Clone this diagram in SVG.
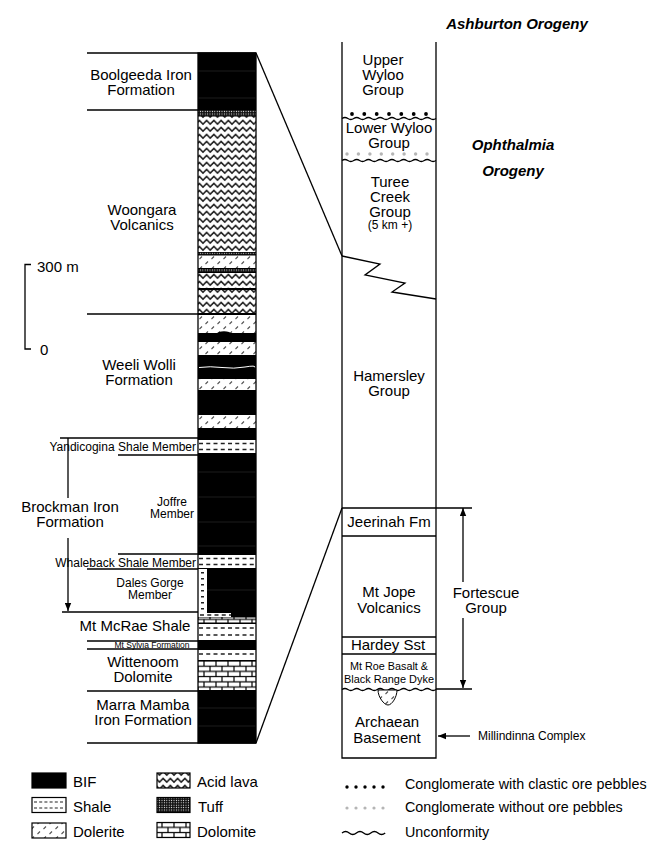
<svg xmlns="http://www.w3.org/2000/svg" width="651" height="853" viewBox="0 0 651 853">
<style>
text{font-family:"Liberation Sans",Arial,Helvetica,sans-serif;fill:#000}
.l{font-size:15px;text-anchor:middle}
.s{font-size:12px;text-anchor:middle}
.bi{font-size:15px;font-weight:bold;font-style:italic;text-anchor:middle}
.ln{stroke:#000;stroke-width:1.3;fill:none}
.sh{stroke:#222;stroke-width:1.5;stroke-dasharray:4 3.25;fill:none}
.bif{fill:#000}
.acid{fill:url(#pAcid)}
.dol{fill:url(#pDol)}
.tuff{fill:url(#pTuff)}
.dolo{fill:url(#pDolo)}
.wh{fill:#fff}
.leg{font-size:15px}
.leg2{font-size:14.3px}
.box{stroke:#000;stroke-width:1.2}
</style>
<defs>
<pattern id="pAcid" width="7.25" height="7" patternUnits="userSpaceOnUse">
<rect width="7.25" height="7" fill="#fff"/>
<path d="M-0.5 5.6 L3.625 1.4 L7.75 5.6" stroke="#222" stroke-width="1.5" fill="none"/>
</pattern>
<pattern id="pDol" width="12" height="10" patternUnits="userSpaceOnUse">
<rect width="12" height="10" fill="#fff"/>
<path d="M1.5 4 L4 1.5 M7.5 9 L10 6.5" stroke="#555" stroke-width="1.1"/>
</pattern>
<pattern id="pTuff" width="2.4" height="2.4" patternUnits="userSpaceOnUse">
<rect width="2.4" height="2.4" fill="#111"/>
<circle cx="1.2" cy="1.2" r="0.55" fill="#fff"/>
</pattern>
<pattern id="pDolo" width="12" height="10.4" y="661" patternUnits="userSpaceOnUse">
<rect width="12" height="10.4" fill="#000"/>
<rect x="0.6" y="0.6" width="10.8" height="4" fill="#fff"/>
<rect x="-5.4" y="5.8" width="10.8" height="4" fill="#fff"/>
<rect x="6.6" y="5.8" width="10.8" height="4" fill="#fff"/>
</pattern>
<marker id="ah" viewBox="0 0 10 8" refX="10" refY="4" markerWidth="8" markerHeight="7" orient="auto" markerUnits="userSpaceOnUse"><path d="M0 0 L10 4 L0 8 z" fill="#000"/></marker>
</defs>
<rect width="651" height="853" fill="#fff"/>

<!-- Left stratigraphic column -->
<g id="left-column">
<rect x="198" y="53" width="58" height="690" class="bif"/>
<path d="M198 71 H256 M198 98 H256 M198 472 H256 M198 497 H256 M198 522 H256 M198 546 H256 M198 590 H256 M198 708 H256 M198 726 H256" stroke="#2a2a2a" stroke-width="0.7"/>
<rect x="198" y="110" width="58" height="6" class="tuff"/>
<rect x="198" y="116.5" width="58" height="135.5" class="acid"/>
<rect x="198" y="252.5" width="58" height="2" class="tuff"/>
<rect x="198" y="255.5" width="58" height="12.5" class="dol"/>
<rect x="198" y="269" width="58" height="3" class="tuff"/>
<rect x="198" y="273" width="58" height="15" class="acid"/>
<rect x="198" y="290" width="58" height="23" class="acid"/>
<rect x="198" y="315" width="58" height="18" class="dol"/>
<ellipse cx="224" cy="333.5" rx="7" ry="2.2" fill="#000"/>
<rect x="198" y="342" width="58" height="13" class="dol"/>
<path d="M199 367.5 Q210 366 222 367.5 T245 367 T255 367.5" stroke="#fff" stroke-width="1" fill="none"/>
<rect x="198" y="379" width="58" height="11" class="dol"/>
<rect x="198" y="415" width="58" height="13" class="dol"/>
<rect x="198" y="440" width="58" height="13" class="wh"/>
<path d="M199 443.5 H256 M199 449.5 H256" class="sh"/>
<rect x="198" y="555" width="58" height="13" class="wh"/>
<path d="M199 558.5 H256 M199 564.5 H256" class="sh"/>
<path d="M198 569 H207 V613 H231 V617 H198 Z" class="wh"/>
<path d="M202.5 572 V612" stroke="#222" stroke-width="3" stroke-dasharray="1.5 4.5" fill="none"/>
<path d="M200 615 H231" class="sh"/>
<rect x="198" y="617.5" width="58" height="5" class="dolo"/>
<rect x="198" y="624" width="58" height="16" class="wh"/>
<path d="M199 628 H256 M199 635 H256" class="sh"/>
<rect x="198" y="650" width="58" height="10" class="wh"/>
<path d="M199 654 H256" class="sh"/>
<rect x="198" y="661" width="58" height="29" class="dolo"/>
<rect x="198" y="53" width="58" height="690" fill="none" stroke="#000" stroke-width="1.3"/>
</g>

<g id="scale-bar">
<path d="M31 264.5 H25 V349 H31" class="ln"/>
<text x="37" y="272" class="leg">300 m</text>
<text x="40" y="355" class="leg">0</text>
</g>

<g id="boolgeeda">
<path d="M87 53 H256 M87 110 H198" class="ln"/>
<text class="l"><tspan x="141" y="80">Boolgeeda Iron</tspan><tspan x="141" y="95">Formation</tspan></text>
</g>
<g id="woongara">
<path d="M87 314 H198" class="ln"/>
<text class="l"><tspan x="142" y="215">Woongara</tspan><tspan x="142" y="230">Volcanics</tspan></text>
</g>
<g id="weeli-wolli">
<path d="M60 438 H198" class="ln"/>
<text class="l"><tspan x="139" y="370">Weeli Wolli</tspan><tspan x="139" y="385">Formation</tspan></text>
</g>
<g id="yandicogina">
<path d="M118 455 H198" class="ln"/>
<text x="196" y="451" style="font-size:12px;text-anchor:end">Yandicogina Shale Member</text>
</g>
<g id="brockman">
<text class="l"><tspan x="70" y="512">Brockman Iron</tspan><tspan x="70" y="527">Formation</tspan></text>
</g>
<g id="joffre">
<text class="s"><tspan x="172" y="506">Joffre</tspan><tspan x="172" y="518">Member</tspan></text>
</g>
<g id="whaleback">
<path d="M118 554 H198 M87 569 H198" class="ln"/>
<text x="196" y="567" style="font-size:12px;text-anchor:end">Whaleback Shale Member</text>
</g>
<g id="dales-gorge">
<path d="M62 612 H198" class="ln"/>
<text class="s"><tspan x="150" y="587">Dales Gorge</tspan><tspan x="150" y="599">Member</tspan></text>
</g>
<g id="mt-mcrae">
<path d="M87 641 H198" class="ln"/>
<text x="135" y="631" class="l">Mt McRae Shale</text>
</g>
<g id="mt-sylvia">
<path d="M87 649 H198" class="ln"/>
<text x="152" y="648" style="font-size:8.5px;text-anchor:middle">Mt Sylvia Formation</text>
</g>
<g id="wittenoom">
<path d="M87 691 H198" class="ln"/>
<text class="l"><tspan x="143" y="667">Wittenoom</tspan><tspan x="143" y="682">Dolomite</tspan></text>
</g>
<g id="marra-mamba">
<path d="M87 743 H256" class="ln"/>
<text class="l"><tspan x="143" y="710">Marra Mamba</tspan><tspan x="143" y="725">Iron Formation</tspan></text>
</g>

<!-- Right column -->
<g id="right-column">
<path d="M342 42 V758 H436 V42" class="ln"/>
</g>
<g id="upper-wyloo">
<text class="l"><tspan x="383" y="65">Upper</tspan><tspan x="383" y="80">Wyloo</tspan><tspan x="383" y="95">Group</tspan></text>
<g fill="#000">
<circle cx="352" cy="114" r="1.9"/><circle cx="364.3" cy="114" r="1.9"/><circle cx="376.7" cy="114" r="1.9"/><circle cx="389" cy="114" r="1.9"/><circle cx="401.3" cy="114" r="1.9"/><circle cx="413.7" cy="114" r="1.9"/><circle cx="426" cy="114" r="1.9"/>
</g>
<path d="M342 118.5 q2.94 -2 5.875 0 t5.875 0 t5.875 0 t5.875 0 t5.875 0 t5.875 0 t5.875 0 t5.875 0 t5.875 0 t5.875 0 t5.875 0 t5.875 0 t5.875 0 t5.875 0 t5.875 0 t5.875 0" class="ln"/>
</g>
<g id="lower-wyloo">
<text class="l"><tspan x="389" y="133">Lower Wyloo</tspan><tspan x="389" y="148">Group</tspan></text>
<g fill="#b5b5b5">
<circle cx="347" cy="154" r="1.7"/><circle cx="358.4" cy="154" r="1.7"/><circle cx="369.9" cy="154" r="1.7"/><circle cx="381.3" cy="154" r="1.7"/><circle cx="392.7" cy="154" r="1.7"/><circle cx="404.1" cy="154" r="1.7"/><circle cx="415.6" cy="154" r="1.7"/><circle cx="427" cy="154" r="1.7"/>
</g>
<path d="M342 160.5 q2.94 -2 5.875 0 t5.875 0 t5.875 0 t5.875 0 t5.875 0 t5.875 0 t5.875 0 t5.875 0 t5.875 0 t5.875 0 t5.875 0 t5.875 0 t5.875 0 t5.875 0 t5.875 0 t5.875 0" class="ln"/>
</g>
<g id="turee-creek">
<text class="l"><tspan x="390" y="187">Turee</tspan><tspan x="390" y="202">Creek</tspan><tspan x="390" y="217">Group</tspan><tspan x="390" y="229" style="font-size:12px">(5 km +)</tspan></text>
<path d="M342 256 L380 264 L365 275 L405 283 L392 292 L436 299" class="ln"/>
</g>
<g id="hamersley">
<text class="l"><tspan x="389" y="381">Hamersley</tspan><tspan x="389" y="396">Group</tspan></text>
</g>
<g id="jeerinah">
<path d="M342 508 H472 M342 536 H436" class="ln"/>
<text x="389" y="527" class="l">Jeerinah Fm</text>
</g>
<g id="mt-jope">
<path d="M342 637 H436" class="ln"/>
<text class="l"><tspan x="389" y="597">Mt Jope</tspan><tspan x="389" y="613">Volcanics</tspan></text>
</g>
<g id="hardey">
<path d="M342 654 H436" class="ln"/>
<text x="388" y="650" class="l">Hardey Sst</text>
</g>
<g id="mt-roe">
<text x="389" y="670" style="font-size:11.5px;text-anchor:middle" textLength="78" lengthAdjust="spacingAndGlyphs">Mt Roe Basalt &amp;</text>
<text x="389" y="683" style="font-size:11.5px;text-anchor:middle" textLength="90" lengthAdjust="spacingAndGlyphs">Black Range Dyke</text>
<path d="M342 689.5 q2.94 -2 5.875 0 t5.875 0 t5.875 0 t5.875 0 t5.875 0 t5.875 0 t5.875 0 t5.875 0 t5.875 0 t5.875 0 t5.875 0 t5.875 0 t5.875 0 t5.875 0 t5.875 0 t5.875 0" class="ln"/>
<path d="M436 689 H472" class="ln"/>
</g>
<g id="archaean">
<path d="M378 690 C378 697 384 705 388 705 C392 705 397 697 397 690 Z" fill="url(#pDol)" stroke="#000" stroke-width="1"/>
<text class="l"><tspan x="387" y="727">Archaean</tspan><tspan x="387" y="743">Basement</tspan></text>
</g>
<g id="fortescue">
<text class="l"><tspan x="486" y="598">Fortescue</tspan><tspan x="486" y="613">Group</tspan></text>
</g>
<g id="millindinna">
<text x="478" y="740" style="font-size:12px">Millindinna Complex</text>
</g>
<g id="ashburton">
<text x="517" y="29" class="bi">Ashburton Orogeny</text>
</g>
<g id="ophthalmia">
<text class="bi"><tspan x="513" y="150">Ophthalmia</tspan><tspan x="513" y="176">Orogeny</tspan></text>
</g>

<!-- Connectors -->
<g id="connectors" stroke="#000" stroke-width="1.3" fill="none">
<path d="M256 53 L342 256"/>
<path d="M256 743 L342 508"/>
<path d="M68 438 V498"/>
<path d="M68 538 V611" marker-end="url(#ah)"/>
<path d="M463 582 V508" marker-end="url(#ah)"/>
<path d="M463 618 V688" marker-end="url(#ah)"/>
<path d="M470 736 H438" marker-end="url(#ah)"/>
</g>

<!-- Legend -->
<g id="legend-bif"><rect x="32" y="773" width="34" height="15" class="box" fill="#000"/><text x="73" y="787" class="leg">BIF</text></g>
<g id="legend-shale"><rect x="32" y="797.5" width="34" height="15" class="box" fill="#fff"/><path d="M34 802 H65 M34 808 H65" class="sh" style="stroke-dasharray:3 2.2;stroke-width:1.2"/><text x="73" y="812" class="leg">Shale</text></g>
<g id="legend-dolerite"><rect x="32" y="823" width="34" height="15" class="box" fill="url(#pDol)"/><text x="73" y="837" class="leg">Dolerite</text></g>
<g id="legend-acid"><rect x="157" y="773" width="33" height="15" class="box" fill="url(#pAcid)"/><text x="197" y="787" class="leg">Acid lava</text></g>
<g id="legend-tuff"><rect x="157" y="797.5" width="33" height="15" class="box" fill="url(#pTuff)"/><text x="198" y="812" class="leg">Tuff</text></g>
<g id="legend-dolomite"><rect x="157" y="822.5" width="33" height="15" class="box" fill="url(#pDolo)"/><text x="197" y="837" class="leg">Dolomite</text></g>
<g id="legend-cong-ore"><g fill="#000"><circle cx="347" cy="787" r="1.7"/><circle cx="356" cy="787" r="1.7"/><circle cx="365" cy="787" r="1.7"/><circle cx="374" cy="787" r="1.7"/><circle cx="383" cy="787" r="1.7"/></g><text x="405" y="789" class="leg2">Conglomerate with clastic ore pebbles</text></g>
<g id="legend-cong"><g fill="#b5b5b5"><circle cx="347" cy="808" r="1.6"/><circle cx="356" cy="808" r="1.6"/><circle cx="365" cy="808" r="1.6"/><circle cx="374" cy="808" r="1.6"/><circle cx="383" cy="808" r="1.6"/></g><text x="405" y="812" class="leg2">Conglomerate without ore pebbles</text></g>
<g id="legend-unconf"><path d="M342 833 q3.6 -3 7.2 0 t7.2 0 t7.2 0 t7.2 0 t7.2 0 t7.2 0" class="ln"/><text x="405" y="837" class="leg2">Unconformity</text></g>
</svg>
